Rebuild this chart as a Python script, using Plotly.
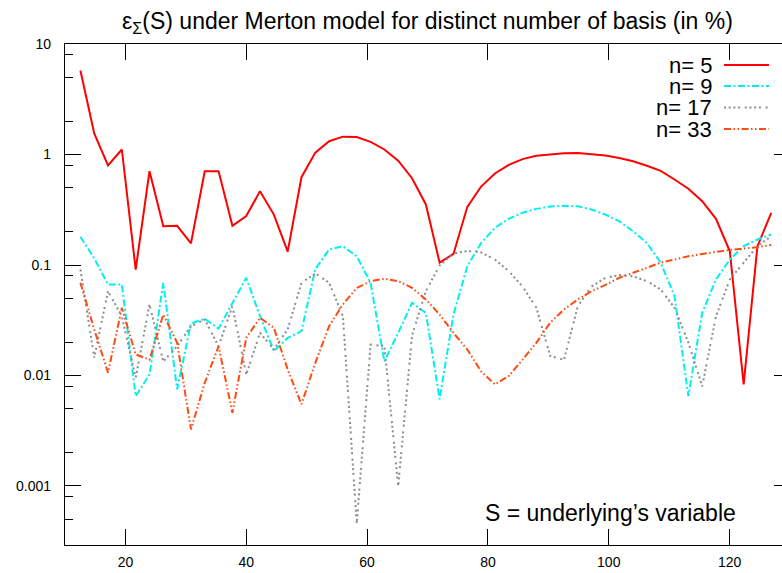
import plotly.graph_objects as go

# Underlying values S (grid of evaluation points)
S = [12.55, 14.84, 17.12, 19.41, 21.70, 23.99, 26.27, 28.56, 30.85, 33.13,
     35.42, 37.71, 40.00, 42.28, 44.57, 46.86, 49.14, 51.43, 53.72, 56.00,
     58.29, 60.58, 62.86, 65.15, 67.44, 69.73, 72.01, 74.30, 76.59, 78.87,
     81.16, 83.45, 85.73, 88.02, 90.31, 92.60, 94.88, 97.17, 99.46, 101.74,
     104.03, 106.32, 108.60, 110.89, 113.18, 115.47, 117.75, 120.04, 122.33, 124.61,
     126.90]

# Relative error (in %) for each number of basis functions
err_n5 = [5.75, 1.55, 0.795, 1.11, 0.091, 0.706, 0.224, 0.226, 0.157, 0.706,
          0.706, 0.226, 0.277, 0.466, 0.286, 0.132, 0.623, 1.04, 1.32, 1.45,
          1.44, 1.30, 1.11, 0.88, 0.61, 0.353, 0.105, 0.126, 0.336, 0.513,
          0.673, 0.807, 0.908, 0.973, 1.00, 1.028, 1.03, 1.01, 0.98, 0.93,
          0.87, 0.79, 0.71, 0.594, 0.49, 0.378, 0.262, 0.133, 0.0083, 0.148,
          0.297]
err_n9 = [0.18, 0.115, 0.0665, 0.0665, 0.0065, 0.0102, 0.069, 0.0075, 0.0296, 0.0326,
          0.0266, 0.0455, 0.0766, 0.0344, 0.0166, 0.0219, 0.0252, 0.092, 0.138, 0.148,
          0.120, 0.069, 0.0134, 0.0243, 0.0455, 0.0369, 0.0061, 0.0356, 0.0977, 0.158,
          0.217, 0.262, 0.297, 0.322, 0.338, 0.343, 0.34, 0.318, 0.286, 0.249,
          0.202, 0.158, 0.105, 0.0522, 0.0065, 0.0369, 0.074, 0.112, 0.148, 0.170,
          0.189]
err_n17 = [0.091, 0.0145, 0.058, 0.0344, 0.0095, 0.044, 0.0134, 0.0184, 0.0279, 0.0321,
           0.0184, 0.0424, 0.0102, 0.0243, 0.0172, 0.0261, 0.069, 0.084, 0.069, 0.0344,
           0.00046, 0.019, 0.0184, 0.001, 0.023, 0.058, 0.099, 0.127, 0.134, 0.13,
           0.112, 0.088, 0.064, 0.041, 0.015, 0.0139, 0.0424, 0.064, 0.0766, 0.081,
           0.079, 0.0714, 0.06, 0.041, 0.0198, 0.008, 0.0344, 0.074, 0.105, 0.148,
           0.182]
err_n33 = [0.069, 0.0261, 0.0106, 0.041, 0.0155, 0.0139, 0.0356, 0.0198, 0.00325, 0.0086,
           0.0184, 0.0046, 0.0219, 0.0333, 0.027, 0.0113, 0.0055, 0.013, 0.028, 0.044,
           0.062, 0.0714, 0.075, 0.0714, 0.062, 0.0488, 0.0356, 0.0243, 0.0172, 0.0109,
           0.0083, 0.0099, 0.0139, 0.0198, 0.030, 0.0396, 0.0488, 0.058, 0.066, 0.0766,
           0.085, 0.094, 0.105, 0.112, 0.12, 0.126, 0.132, 0.137, 0.141, 0.145,
           0.152]

labels = ["n= 5", "n= 9", "n= 17", "n= 33"]
series = [err_n5, err_n9, err_n17, err_n33]
colors = ["#ff0000", "#00f0f0", "#8c8c8c", "#ff4a10"]
dashes = ["solid", "7px,2.5px,2px,2.5px", "2px,2.7px,2px,2.7px,2px,2.7px,2px,4.7px",
          "7px,2.5px,1.5px,2.5px,1.5px,2.5px"]

x_ticks = [20, 40, 60, 80, 100, 120]
y_ticks = [0.001, 0.01, 0.1, 1, 10]
y_ticktext = ["0.001", "0.01", "0.1", "1", "10"]
y_minor = [m * 10.0 ** k for k in range(-4, 1) for m in (2, 5, 8)]

FONT = "Liberation Sans, Arial, Helvetica, sans-serif"
W, H = 790, 573
ML, MR, MT, MB = 65, 0, 44, 28

fig = go.Figure()
for name, ys, col, dsh in zip(labels, series, colors, dashes):
    fig.add_trace(go.Scatter(x=S, y=ys, mode="lines", name=name,
                             line=dict(color=col, width=2, dash=dsh),
                             showlegend=False))

# key: right-aligned labels with line samples to their right
pw, ph = W - ML - MR, H - MT - MB
def px_x(px):
    return (px - ML) / pw
def px_y(py):
    return (H - MB - py) / ph

key_rows = [65, 86, 107.5, 129]
for name, col, dsh, ry in zip(labels, colors, dashes, key_rows):
    fig.add_annotation(x=px_x(714), y=px_y(ry), xref="paper", yref="paper",
                       text=name, showarrow=False, xanchor="right", yanchor="middle",
                       font=dict(family=FONT, size=22, color="black"))
    fig.add_shape(type="line", xref="paper", yref="paper",
                  x0=px_x(724), x1=px_x(769), y0=px_y(ry), y1=px_y(ry),
                  line=dict(color=col, width=2, dash=dsh))

fig.add_annotation(x=px_x(738), y=px_y(513), xref="paper", yref="paper",
                   text="S = underlying\u2019s variable", showarrow=False,
                   xanchor="right", yanchor="middle",
                   font=dict(family=FONT, size=23, color="black"))

fig.update_layout(
    width=W, height=H,
    margin=dict(l=ML, r=MR, t=MT, b=MB, pad=0),
    paper_bgcolor="white", plot_bgcolor="white",
    font=dict(family=FONT, size=14, color="black"),
    title=dict(text="\u03b5<sub>\u03a3</sub>(S) under Merton model for distinct number of basis (in %)",
               x=0.5, xref="paper", xanchor="center",
               y=1 - 21 / H, yref="container", yanchor="middle",
               font=dict(family=FONT, size=23, color="black")),
    xaxis=dict(range=[10, 130], tickvals=x_ticks, ticks="inside", ticklen=16,
               tickwidth=1, tickcolor="black", showline=True, linecolor="black",
               linewidth=1.3, mirror="ticks", showgrid=False, zeroline=False,
               tickfont=dict(size=14), ticklabelstandoff=4),
    yaxis=dict(type="log", range=[-3.534, 1], tickvals=y_ticks, ticktext=y_ticktext,
               ticks="inside", ticklen=16, tickwidth=1, tickcolor="black",
               showline=True, linecolor="black", linewidth=1.3, mirror="ticks",
               showgrid=False, zeroline=False, tickfont=dict(size=14),
               ticklabelstandoff=10,
               minor=dict(tickvals=y_minor, ticks="inside", ticklen=8,
                          tickwidth=1, tickcolor="black", showgrid=False)),
)

fig.write_html("out.html",
               post_script="document.documentElement.style.overflow='hidden';"
                           "document.body.style.overflow='hidden';")
